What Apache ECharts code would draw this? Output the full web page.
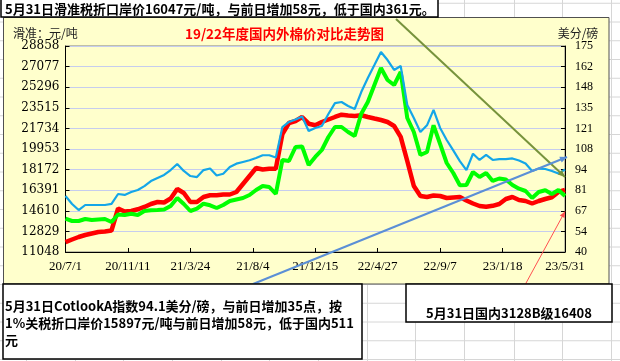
<!DOCTYPE html>
<html><head><meta charset="utf-8">
<script src="https://cdn.jsdelivr.net/npm/echarts@6/dist/echarts.min.js"></script>
<style>html,body{margin:0;padding:0;background:#fff}#c{width:620px;height:361px}</style>
</head><body><div id="c"></div>
<script>
// ---- data ----
const dates = ['2020-07-01','2020-07-15','2020-07-29','2020-08-12','2020-08-26','2020-09-09','2020-09-23','2020-10-07','2020-10-21','2020-11-04',
'2020-11-18','2020-12-02','2020-12-16','2020-12-30','2021-01-13','2021-01-27','2021-02-10','2021-02-24','2021-03-10','2021-03-24',
'2021-04-07','2021-04-21','2021-05-05','2021-05-19','2021-06-02','2021-06-16','2021-06-30','2021-07-14','2021-07-28','2021-08-11',
'2021-08-25','2021-09-08','2021-09-22','2021-10-06','2021-10-20','2021-11-03','2021-11-17','2021-12-01','2021-12-15','2021-12-29',
'2022-01-12','2022-01-26','2022-02-09','2022-02-23','2022-03-09','2022-03-23','2022-04-06','2022-04-20','2022-05-04','2022-05-18',
'2022-06-01','2022-06-15','2022-06-29','2022-07-13','2022-07-27','2022-08-10','2022-08-24','2022-09-07','2022-09-21','2022-10-05',
'2022-10-19','2022-11-02','2022-11-16','2022-11-30','2022-12-14','2022-12-28','2023-01-11','2023-01-25','2023-02-08','2023-02-22',
'2023-03-08','2023-03-22','2023-04-05','2023-04-19','2023-05-03','2023-05-17','2023-05-31'];

// domestic 3128B (yuan/ton, left axis)
const domestic3128B = [11910,12129,12345,12518,12648,12777,12820,12907,14809,14550,
14593,14740,14939,15198,15371,15328,15674,16495,16149,15371,
15371,15803,15950,15950,16019,16019,16236,16927,17619,18311,
18181,18250,18250,21250,22201,22374,22720,22141,22003,22288,
22504,22720,22919,22850,22807,22868,22720,22590,22461,22288,
21942,21000,18916,16754,15890,15803,15933,15890,15717,15760,
15803,15501,15241,15025,14956,15042,15198,15630,15803,15544,
15457,15241,15457,15630,15777,16236,16408];

// import price at port (yuan/ton, left axis)
const importPrice = [13927,13728,13728,13901,13815,13858,13901,13642,14290,14247,
14359,14247,14593,14653,14679,14723,15025,15717,15198,14593,
14792,15224,15086,14852,15112,15457,15587,15717,15976,16409,
16754,16668,16063,19002,18916,20126,20170,18570,19262,19867,
20990,21856,21856,21423,21077,23000,24017,25487,26957,25919,
25487,26611,22634,21423,19435,19694,22003,20386,18743,17878,
16815,16841,17965,17533,17878,17187,17403,17316,16841,16521,
16322,15717,16236,16383,16063,16409,15897];

// Cotlook A index (US cents/lb, right axis)
const cotlookA = [76.7,71.5,67.5,70.8,70.8,70.8,70.8,71.5,78.0,77.4,
79.3,80.6,83.2,86.5,88.5,90.5,93.7,97.7,93.1,89.8,
89.1,93.7,94.7,90.1,91.3,95.7,97.9,99.0,100.1,101.6,
103.4,103.4,101.9,121.9,125.2,126.8,128.8,119.3,121.3,122.6,
130.4,137.6,138.3,135.7,133.7,144.8,154.0,162.5,171.1,165.8,
159.3,161.9,136.3,127.8,118.6,123.0,133.1,121.3,113.4,106.6,
99.6,93.7,104.4,100.3,103.6,100.3,100.9,100.9,101.3,100.0,
98.0,93.1,94.7,94.4,93.1,91.4,94.1];

const leftTicks = [11048,12829,14610,16391,18172,19953,21734,23515,25296,27077,28858];
const rightTicks = [40,54,67,81,94,108,121,135,148,162,175];
const xLabels = ['20/7/1','20/11/11','21/3/24','21/8/4','21/12/15','22/4/27','22/9/7','23/1/18','23/5/31'];

// ---- scales ----
const leftMin = 11048, leftStep = 1781;
const rightMin = 40, rightStep = 13.5;
const dayStep = 133;
const t0 = Date.parse(dates[0]);
const dayOf = d => Math.round((Date.parse(d) - t0) / 86400000);
const toL = v => (v - leftMin) / leftStep;
const toR = v => (v - rightMin) / rightStep;

const cjk = '"Noto Sans CJK SC", "Noto Sans", sans-serif';

// ---- decorations (spreadsheet grid, chart area, text boxes, callouts) ----
const gfx = [];
for (let n = 0; n < 21; n++) {
  const y = 359.5 - 18.75 * n;
  gfx.push({type:'line', z:-20, silent:true, shape:{x1:0,y1:y,x2:620,y2:y}, style:{stroke:'#D6D6D6', lineWidth:1}});
}
[611.5,562.5,514.5,464.5,415.5,367.5,318.5,269.5,221.5,172.5,123.5,75.5,26.5].forEach(x => {
  gfx.push({type:'line', z:-20, silent:true, shape:{x1:x,y1:0,x2:x,y2:361}, style:{stroke:'#D6D6D6', lineWidth:1}});
});
gfx.push({type:'rect', z:-10, silent:true, shape:{x:3.5,y:17.5,width:605.5,height:266.5}, style:{fill:'#FFFFCC', stroke:'#505050', lineWidth:1}});

gfx.push({type:'text', z:50, style:{x:13, y:33.5, text:'滑准：元/吨', font:'12px ' + cjk, fill:'#222', textVerticalAlign:'middle'}});
gfx.push({type:'text', z:50, style:{x:578, y:33.5, text:'美分/磅', font:'12px ' + cjk, fill:'#222', textAlign:'center', textVerticalAlign:'middle'}});
gfx.push({type:'text', z:50, style:{x:284.5, y:33.5, text:'19/22年度国内外棉价对比走势图', font:'bold 13.5px ' + cjk, fill:'#FF0000', textAlign:'center', textVerticalAlign:'middle'}});

function arrowHead(x1, y1, x2, y2, size, color) {
  const a = Math.atan2(y2 - y1, x2 - x1);
  const p1 = [x2 - size * Math.cos(a) + size * 0.45 * Math.sin(a), y2 - size * Math.sin(a) - size * 0.45 * Math.cos(a)];
  const p2 = [x2 - size * Math.cos(a) - size * 0.45 * Math.sin(a), y2 - size * Math.sin(a) + size * 0.45 * Math.cos(a)];
  return {type:'polygon', z:60, silent:true, shape:{points:[[x2,y2], p1, p2]}, style:{fill:color}};
}
function callout(x1, y1, x2, y2, color, w, size) {
  gfx.push({type:'line', z:60, silent:true, shape:{x1,y1,x2,y2}, style:{stroke:color, lineWidth:w}});
  gfx.push(arrowHead(x1, y1, x2, y2, size, color));
}
callout(396, 19, 565, 177, '#77933C', 2, 7);
callout(253, 284, 567, 157, '#5B8FD6', 2, 7);
callout(525.5, 284, 565, 211.5, '#FF5050', 1, 6);

// text boxes
gfx.push({type:'rect', z:70, silent:true, shape:{x:1,y:-2,width:437,height:19}, style:{fill:'#fff', stroke:'#000', lineWidth:1.5}});
gfx.push({type:'text', z:71, style:{x:5, y:9, text:'5月31日滑准税折口岸价16047元/吨，与前日增加58元，低于国内361元。', font:'bold 13px ' + cjk, fill:'#000', textVerticalAlign:'middle'}});

gfx.push({type:'rect', z:70, silent:true, shape:{x:3,y:284,width:359,height:75}, style:{fill:'#fff', stroke:'#000', lineWidth:1.5}});
['5月31日CotlookA指数94.1美分/磅，与前日增加35点，按', '1%关税折口岸价15897元/吨与前日增加58元，低于国内511', '元'].forEach((t, i) => {
  gfx.push({type:'text', z:71, style:{x:5, y:306.5 + i * 17, text:t, font:'bold 13px ' + cjk, fill:'#000', textVerticalAlign:'middle'}});
});

gfx.push({type:'rect', z:70, silent:true, shape:{x:406,y:284,width:206,height:38}, style:{fill:'#fff', stroke:'#000', lineWidth:1.5}});
gfx.push({type:'text', z:71, style:{x:509, y:313, text:'5月31日国内3128B级16408', font:'bold 13px ' + cjk, fill:'#000', textAlign:'center', textVerticalAlign:'middle'}});

// ---- chart ----
const chart = echarts.init(document.getElementById('c'), null, {renderer:'canvas'});
const mk = (arr, f) => dates.map((d, i) => [dayOf(d), f(arr[i])]);
const yBase = {type:'value', min:0, max:10, interval:1,
  axisLine:{show:true, lineStyle:{color:'#000', width:1}},
  axisTick:{show:true, inside:true, length:4, lineStyle:{color:'#000'}}};
chart.setOption({
  backgroundColor:'#ffffff',
  animation:false,
  grid:{left:65.5, right:55, top:46, bottom:109, show:true, borderColor:'#808080', borderWidth:1, backgroundColor:'transparent'},
  xAxis:{type:'value', min:0, max:dayStep * (xLabels.length - 1), interval:dayStep,
    axisLine:{onZero:false, lineStyle:{color:'#000', width:1}},
    axisTick:{inside:true, length:4, lineStyle:{color:'#000'}},
    splitLine:{show:false},
    axisLabel:{margin:8, fontFamily:'Liberation Serif', fontSize:13, color:'#000', formatter:v => xLabels[Math.round(v / dayStep)]}},
  yAxis:[
    Object.assign({}, yBase, {position:'left',
      splitLine:{show:true, lineStyle:{color:'#C6CDEE', width:1}},
      axisLabel:{margin:6, fontFamily:'DejaVu Serif', fontSize:12, color:'#000', formatter:v => String(leftTicks[Math.round(v)])}}),
    Object.assign({}, yBase, {position:'right',
      splitLine:{show:false},
      axisLabel:{margin:10, fontFamily:'Liberation Serif', fontSize:12, color:'#000', formatter:v => String(rightTicks[Math.round(v)])}})
  ],
  series:[
    {name:'国内3128B', type:'line', yAxisIndex:0, showSymbol:false, data:mk(domestic3128B, toL), lineStyle:{color:'#FF0000', width:4.5}, itemStyle:{color:'#FF0000'}, z:3},
    {name:'进口折口岸价', type:'line', yAxisIndex:0, showSymbol:false, data:mk(importPrice, toL), lineStyle:{color:'#00FF00', width:4}, itemStyle:{color:'#00FF00'}, z:4},
    {name:'CotlookA', type:'line', yAxisIndex:1, showSymbol:false, data:mk(cotlookA, toR), lineStyle:{color:'#14A6E8', width:2.2}, itemStyle:{color:'#14A6E8'}, z:5}
  ],
  graphic:gfx
});
</script></body></html>
